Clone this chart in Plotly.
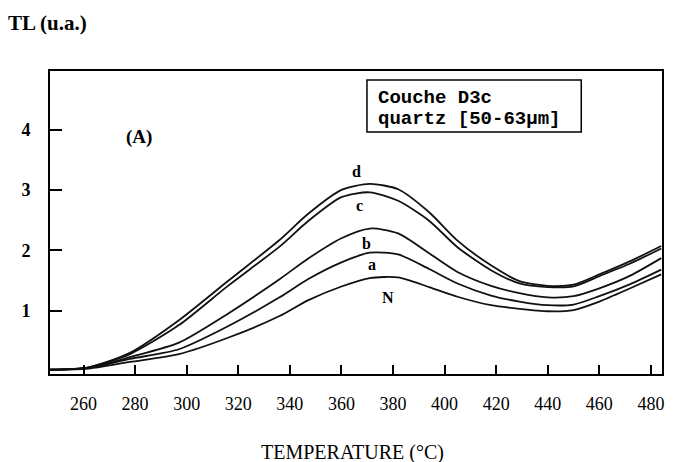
import plotly.graph_objects as go

temperature = [247, 262, 278, 297, 316, 336, 347, 360, 371, 382, 394, 405, 418, 429, 440, 450, 460, 472, 484]
curve_d = [0.02, 0.06, 0.30, 0.84, 1.49, 2.17, 2.60, 3.00, 3.10, 3.01, 2.63, 2.16, 1.75, 1.49, 1.41, 1.43, 1.60, 1.82, 2.07]
curve_c = [0.02, 0.06, 0.28, 0.76, 1.41, 2.06, 2.48, 2.88, 2.96, 2.82, 2.49, 2.05, 1.67, 1.45, 1.39, 1.40, 1.57, 1.78, 2.03]
curve_b = [0.02, 0.05, 0.23, 0.47, 0.95, 1.52, 1.86, 2.20, 2.36, 2.28, 1.95, 1.64, 1.41, 1.29, 1.22, 1.24, 1.37, 1.58, 1.87]
curve_a = [0.02, 0.05, 0.20, 0.36, 0.74, 1.22, 1.52, 1.80, 1.96, 1.93, 1.69, 1.45, 1.25, 1.15, 1.09, 1.10, 1.24, 1.44, 1.68]
curve_N = [0.02, 0.04, 0.15, 0.28, 0.55, 0.91, 1.17, 1.40, 1.54, 1.55, 1.39, 1.23, 1.09, 1.03, 0.99, 1.01, 1.15, 1.37, 1.60]

series = {"d": curve_d, "c": curve_c, "b": curve_b, "a": curve_a, "N": curve_N}
x_ticks = [260, 280, 300, 320, 340, 360, 380, 400, 420, 440, 460, 480]
y_ticks = [1, 2, 3, 4]

serif = "Liberation Serif"
mono = "Liberation Mono"

# page body has an 8px margin: plot area spans window x 50..664, y 71..374
PW, PH = 614, 303


def px(x):
    return (x - 50) / PW


def py(y):
    return (374 - y) / PH


fig = go.Figure()
for name, vals in series.items():
    fig.add_trace(go.Scatter(x=temperature, y=vals, mode="lines", name=name,
                             line=dict(color="#111111", width=1.8, shape="spline", smoothing=0.7),
                             showlegend=False))

label_pos = {"d": (366, 3.31), "c": (367, 2.74), "b": (369.8, 2.11), "a": (371.8, 1.77), "N": (378.2, 1.22)}
for name, (lx, ly) in label_pos.items():
    fig.add_annotation(x=lx, y=ly, text="<b>" + name + "</b>", showarrow=False,
                       font=dict(family=serif, size=16, color="black"))

fig.add_annotation(x=px(124), y=py(124), xref="paper", yref="paper",
                   text="<b>(A)</b>", showarrow=False,
                   font=dict(family=serif, size=19, color="black"))

# inset box
fig.add_shape(type="rect", xref="paper", yref="paper",
              x0=px(368), x1=px(583), y0=py(132), y1=py(80),
              line=dict(color="black", width=1.5))
fig.add_annotation(x=px(377), y=py(98), xref="paper", yref="paper",
                   xanchor="left", yanchor="middle", text="<b>Couche D3c</b>", showarrow=False,
                   font=dict(family=mono, size=19, color="black"))
fig.add_annotation(x=px(377), y=py(119), xref="paper", yref="paper",
                   xanchor="left", yanchor="middle", text="<b>quartz [50-63μm]</b>", showarrow=False,
                   font=dict(family=mono, size=19, color="black"))

fig.add_annotation(x=px(6), y=py(23), xref="paper", yref="paper",
                   xanchor="left", yanchor="middle", text="<b>TL (u.a.)</b>", showarrow=False,
                   font=dict(family=serif, size=21, color="black"))
fig.add_annotation(x=px(353), y=py(452), xref="paper", yref="paper",
                   xanchor="center", yanchor="middle", text="TEMPERATURE (°C)", showarrow=False,
                   font=dict(family=serif, size=20, color="black"))

fig.update_layout(
    width=665, height=454,
    margin=dict(l=42, r=9, t=63, b=88),
    paper_bgcolor="white", plot_bgcolor="white",
    xaxis=dict(range=[247, 484.3], tickvals=x_ticks, ticks="inside", ticklen=9, tickwidth=1.5,
               tickcolor="black", showline=True, linecolor="black", linewidth=2, mirror=True,
               showgrid=False, zeroline=False, ticklabelstandoff=12,
               tickfont=dict(family=serif, size=18, color="black")),
    yaxis=dict(range=[-0.05, 4.97], tickvals=y_ticks, ticks="inside", ticklen=12, tickwidth=1.5,
               tickcolor="black", showline=True, linecolor="black", linewidth=2, mirror=True,
               showgrid=False, zeroline=False, ticklabelstandoff=14,
               tickfont=dict(family=serif, size=18, color="black", weight="bold")),
)

fig.write_html("out.html")
